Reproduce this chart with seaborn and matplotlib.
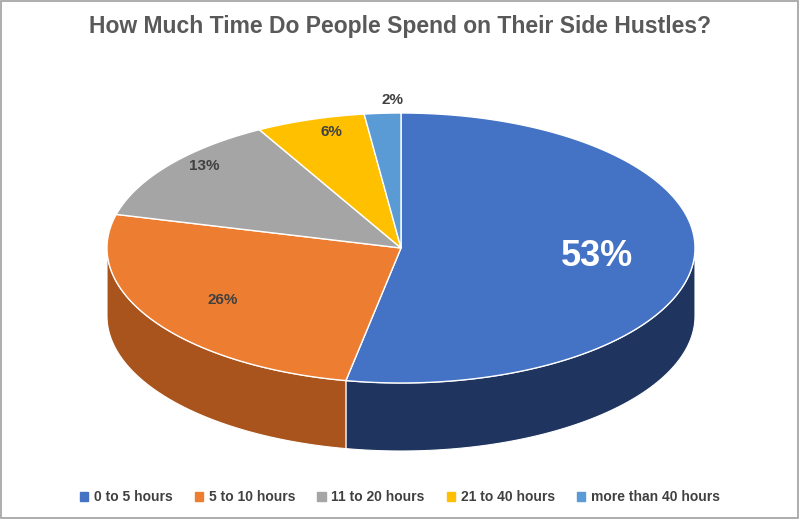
import numpy as np
import matplotlib
matplotlib.use("Agg")
import matplotlib.pyplot as plt
import seaborn as sns
from matplotlib.patches import Polygon, Patch

sns.set_theme(style="white")
plt.rcParams['font.family'] = ['Liberation Sans Narrow', 'Liberation Sans', 'DejaVu Sans']

categories = ["0 to 5 hours", "5 to 10 hours", "11 to 20 hours", "21 to 40 hours", "more than 40 hours"]
values = [53, 26, 13, 6, 2]
labels = ["53%", "26%", "13%", "6%", "2%"]
top_colors = ["#4472c4", "#ed7d31", "#a5a5a5", "#ffc000", "#5b9bd5"]
side_colors = ["#1f3560", "#a8541c", "#6e6e6e", "#a07800", "#3a6a96"]

cx, cy, rx, ry, depth = 401, 248, 294, 135, 68
fig = plt.figure(figsize=(8, 5.2), dpi=100)
ax = fig.add_axes([0, 0, 1, 1])
ax.set_xlim(0, 800); ax.set_ylim(520, 0); ax.axis("off")

def pt(t, dy=0):
    r = np.radians(t)
    return cx + rx*np.cos(r), cy - ry*np.sin(r) + dy

fr = np.array(values)/sum(values)
ends = 90 - 360*np.cumsum(fr)
starts = np.concatenate([[90], ends[:-1]])

for s, e, c in zip(starts, ends, side_colors):
    for off in (0, -360, 360):
        a, b = min(s, 0+off), max(e, -180+off)
        if a > b:
            ts = np.linspace(a, b, 80)
            top = [pt(t) for t in ts]
            bot = [pt(t, depth) for t in ts[::-1]]
            ax.add_patch(Polygon(top+bot, closed=True, fc=c, ec="white", lw=0.8, zorder=1))

for s, e, c in zip(starts, ends, top_colors):
    ts = np.linspace(s, e, 150)
    ax.add_patch(Polygon([(cx, cy)]+[pt(t) for t in ts], closed=True, fc=c, ec="white", lw=1, zorder=2))

rf = [0.67, 0.72, 0.9, 0.9, 1.1]
for s, e, lab, r, i in zip(starts, ends, labels, rf, range(5)):
    m = np.radians((s+e)/2)
    x, y = cx + r*rx*np.cos(m), cy - r*ry*np.sin(m)
    if i == 0:
        ax.text(x, y, lab, color="white", fontsize=26, fontweight="bold", ha="center", va="center", zorder=3)
    else:
        ax.text(x + (12 if i >= 2 else 0), y - (8 if i == 2 else 0), lab, color="#404040", fontsize=11,
                fontweight="bold", ha="center", va="center", zorder=3)

ax.text(400, 27, "How Much Time Do People Spend on Their Side Hustles?", ha="center", va="center",
        fontsize=16.5, fontweight="bold", color="#595959")
ax.add_patch(plt.Rectangle((1, 1), 797, 517, fill=False, ec="#a0a0a0", lw=1.2))

handles = [Patch(fc=c, ec=c) for c in top_colors]
leg = fig.legend(handles, categories, loc="center", bbox_to_anchor=(0.5, 1-497/520), ncol=5, frameon=False,
           fontsize=10, handlelength=0.6, handleheight=0.6, columnspacing=1.6, handletextpad=0.4,
           labelcolor="#404040", prop={"weight": "bold", "size": 10})
fig.savefig("out.png", dpi=100)
